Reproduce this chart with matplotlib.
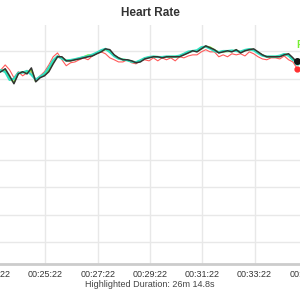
import matplotlib
matplotlib.use("Agg")
import matplotlib.pyplot as plt
from matplotlib.ticker import FuncFormatter, MultipleLocator

plt.rcParams['font.family'] = ['Liberation Sans', 'DejaVu Sans']

# time in seconds (clock position), 10 s apart
times = list(range(1410, 2101, 10))

# heart rate series (bpm)
hr_black = [131.7, 132.5, 133.6, 131.0, 128.1, 131.7, 132.5, 131.7, 133.9, 128.8,
            130.3, 131.0, 132.5, 135.4, 138.0, 138.0, 136.5, 136.5, 136.9, 137.2,
            137.6, 138.0, 138.3, 139.1, 139.8, 140.9, 140.6, 138.7, 137.6, 136.9,
            136.9, 136.5, 135.8, 136.1, 137.2, 137.6, 138.0, 138.0, 137.6, 138.0,
            138.0, 138.0, 138.0, 138.7, 139.4, 140.2, 139.8, 140.9, 142.0, 141.3,
            140.6, 139.4, 139.8, 140.2, 139.8, 140.6, 139.4, 140.2, 140.6, 140.9,
            139.8, 138.7, 138.0, 138.0, 138.0, 138.0, 138.7, 139.1, 137.6, 135.8]

hr_cyan = [132.1, 133.1, 132.4, 129.5, 129.9, 132.1, 132.2, 132.8, 131.4, 129.6,
           130.7, 131.8, 134.0, 136.7, 138.2, 137.3, 136.6, 136.8, 137.1, 137.5,
           137.9, 138.2, 138.8, 139.5, 140.4, 140.9, 139.7, 138.2, 137.3, 137.0,
           136.7, 136.2, 136.0, 136.7, 137.5, 137.9, 138.1, 137.9, 137.9, 138.1,
           138.1, 138.1, 138.4, 139.1, 139.9, 140.1, 140.4, 141.5, 141.7, 141.0,
           140.1, 139.7, 140.1, 140.1, 140.3, 140.1, 139.9, 140.5, 140.8, 140.4,
           139.3, 138.4, 138.1, 138.1, 138.1, 138.4, 139.0, 138.4, 136.8, 136.2]

hr_green = [131.9, 132.8, 133.2, 130.2, 128.6, 131.9, 132.4, 132.2, 133.2, 129.0,
            130.6, 131.3, 133.0, 136.0, 138.1, 137.7, 136.6, 136.6, 137.0, 137.4,
            137.9, 138.6, 138.5, 139.3, 140.0, 140.7, 140.2, 138.5, 137.5, 137.0,
            136.8, 136.3, 136.0, 136.4, 137.4, 137.8, 138.0, 138.0, 137.8, 138.0,
            138.0, 138.0, 138.2, 138.9, 139.6, 140.2, 140.0, 141.0, 141.8, 141.5,
            140.5, 139.6, 139.9, 140.0, 140.0, 140.4, 139.6, 140.3, 140.7, 140.6,
            139.6, 138.6, 138.0, 138.0, 138.0, 138.2, 138.8, 138.8, 137.2, 136.0]

hr_red = [132.5, 133.2, 135.0, 133.2, 130.3, 132.5, 131.0, 132.1, 132.5, 129.5,
          131.0, 132.5, 135.0, 138.0, 139.4, 136.9, 134.7, 135.8, 136.1, 136.9,
          137.6, 136.9, 138.3, 139.1, 139.8, 139.1, 137.6, 136.9, 136.1, 136.1,
          136.9, 135.8, 135.4, 136.5, 136.9, 136.5, 137.6, 136.5, 137.6, 136.9,
          137.6, 136.5, 138.0, 137.6, 138.3, 138.7, 138.7, 139.8, 140.6, 139.8,
          139.8, 138.0, 138.7, 138.0, 139.1, 138.7, 139.1, 138.3, 139.8, 139.1,
          138.0, 137.2, 136.9, 137.6, 137.6, 137.2, 138.3, 136.9, 136.1, 133.6]

green_label = "Polar"
x_label = "Highlighted Duration: 26m 14.8s"


def clock(t, pos):
    t = int(round(t))
    return "%02d:%02d:%02d" % (t // 3600, (t % 3600) // 60, t % 60)


fig = plt.figure(figsize=(3, 3), dpi=100)
# axes wider than the figure: the reference is a crop of a wider chart
ax = fig.add_axes([-0.2, 0.12, 1.4, 0.797])

ax.plot(times, hr_red, color="#ff5a5a", lw=0.8, zorder=2)
ax.plot(times, hr_green, color="#77ee33", lw=1.3, zorder=3)
ax.plot(times, hr_cyan, color="#30e0c0", lw=1.6, zorder=4)
ax.plot(times, hr_black, color="#333333", lw=1.1, zorder=5)

# end markers
ax.plot(times[-1], hr_red[-1], "o", color="#ff3030", ms=3.5, zorder=6)
ax.plot(times[-1], hr_cyan[-1], "o", color="#30e0c0", ms=3.5, zorder=6)
ax.plot(times[-1], hr_black[-1] + 0.8, "o", color="#111111", ms=4, zorder=7)
ax.text(times[-1] - 3, 142.4, green_label, color="#77ee33", fontsize=7.5,
        fontweight="bold", va="center", ha="left")

ax.set_xlim(1280.4, 2243.9)
ax.set_ylim(61.9, 149.7)
ax.xaxis.set_major_locator(MultipleLocator(120, offset=1402 % 120))
ax.xaxis.set_major_formatter(FuncFormatter(clock))
ax.yaxis.set_major_locator(MultipleLocator(10))

ax.grid(True, color="#e8e8e8", lw=1)
ax.set_axisbelow(True)
for side in ["left", "right", "top"]:
    ax.spines[side].set_visible(False)
ax.spines["bottom"].set_color("#cccccc")
ax.spines["bottom"].set_linewidth(2)
ax.tick_params(axis="x", length=0, labelsize=6.5, colors="#333333", pad=4)
ax.tick_params(axis="y", left=False, labelleft=False)

ax.set_xlabel(x_label, fontsize=6.5, color="#444444", labelpad=1)
fig.text(0.5, 0.958, "Heart Rate", ha="center", va="center", fontsize=8.5,
         fontweight="bold", color="#333333")

fig.savefig("out.png", dpi=100)
